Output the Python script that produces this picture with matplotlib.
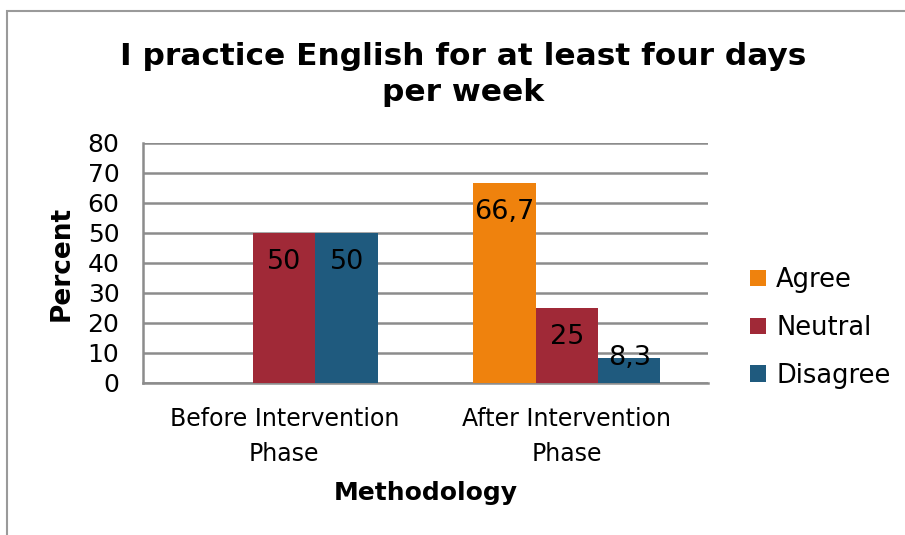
import numpy as np
import matplotlib.pyplot as plt
from matplotlib.patches import Rectangle

# Data
phases = ['Before Intervention\nPhase', 'After Intervention\nPhase']
series = ['Agree', 'Neutral', 'Disagree']
agree = [0, 66.7]
neutral = [50, 25]
disagree = [50, 8.3]
colors = ['#EF820D', '#A02937', '#1F5A7E']

fig = plt.figure(figsize=(9.05, 5.35), dpi=100)
ax = fig.add_axes([143 / 905, 1 - 383 / 535, 565 / 905, 240 / 535])

# outer chart frame
fig.patches.append(Rectangle((7 / 905, -0.1), 1.2, (535 - 11) / 535 + 0.1,
                             transform=fig.transFigure, fill=False,
                             edgecolor='#9a9a9a', lw=1.5))

x = np.arange(len(phases))
w = 0.221
for i, (vals, name) in enumerate(zip([agree, neutral, disagree], series)):
    pos = x + (i - 1) * w
    bars = ax.bar(pos, vals, w, color=colors[i], label=name, zorder=3)
    for b, v in zip(bars, vals):
        if v == 0:
            continue
        txt = f'{v:g}'.replace('.', ',')
        # label inside the bar end; short bars get it centred on the top
        ty = v - 9.7 if v > 15 else v
        ax.text(b.get_x() + w / 2, ty, txt, ha='center', va='center',
                fontsize=19.5, zorder=4)

ax.set_xlim(-0.5, 1.5)
ax.set_ylim(0, 80)
ax.set_yticks(range(0, 81, 10))
ax.set_xticks(x)
ax.set_xticklabels(phases, fontsize=17, linespacing=1.6)
ax.tick_params(axis='y', labelsize=18, length=0, pad=17)
ax.tick_params(axis='x', length=0, pad=17)
ax.yaxis.grid(True, color='#8c8c8c', lw=1.8, zorder=0)
ax.set_axisbelow(True)
for s in ['top', 'right']:
    ax.spines[s].set_visible(False)
for s in ['left', 'bottom']:
    ax.spines[s].set_color('#8c8c8c')
    ax.spines[s].set_linewidth(1.8)

ax.set_ylabel('Percent', fontsize=19, fontweight='bold', labelpad=9)
ax.set_xlabel('Methodology', fontsize=18, fontweight='bold', labelpad=11)
fig.suptitle('I practice English for at least four days\nper week',
             fontsize=22.5, fontweight='bold', x=463 / 905, y=0.922,
             linespacing=1.3)

ax.legend(loc='center left', bbox_to_anchor=(1.075, 0.23), frameon=False,
          fontsize=18.5, handlelength=0.6, handleheight=0.6, handletextpad=0.4,
          labelspacing=0.85, borderpad=0, borderaxespad=0)

fig.savefig('out.png', dpi=100)
